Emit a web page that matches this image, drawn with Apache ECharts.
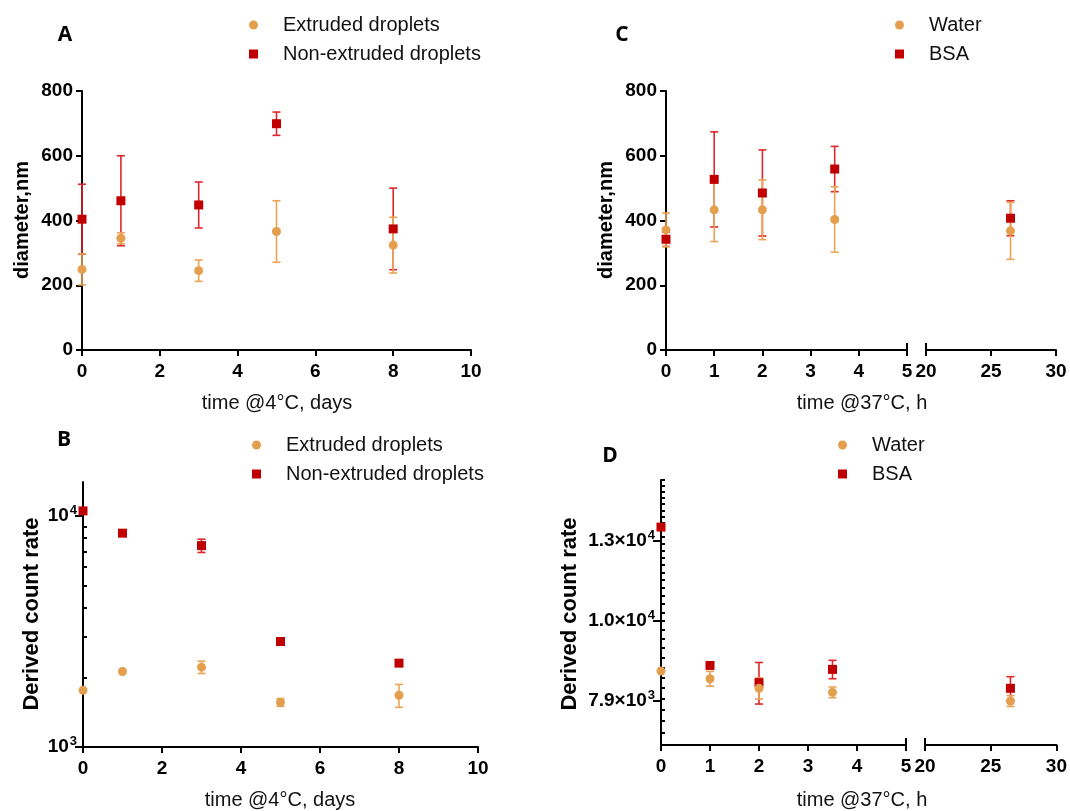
<!DOCTYPE html>
<html>
<head>
<meta charset="utf-8">
<script src="https://cdn.jsdelivr.net/npm/echarts@6/dist/echarts.min.js"></script>
<style>
html, body { margin: 0; padding: 0; background: #fff; }
#chart { width: 1070px; height: 811px; }
</style>
</head>
<body>
<div id="chart"></div>
<script>
// panel A / B: storage at 4 C, days
const days = [0, 1, 3, 5, 8];
const extrudedDiam = [249, 345, 245, 366, 324];
const extrudedDiamSd = [48, 17, 33, 95, 86];
const nonExtrudedDiam = [404, 461, 448, 699, 374];
const nonExtrudedDiamSd = [108, 139, 71, 36, 126];
const extrudedCount = [1760, 2120, 2215, 1560, 1675];
const extrudedCountSd = [0, 0, 136, 60, 190];
const nonExtrudedCount = [10500, 8410, 7430, 2860, 2305];
const nonExtrudedCountSd = [0, 0, 490, 90, 0];

// panel C / D: incubation at 37 C, hours
const hours = [0, 1, 2, 3.5, 26.5];
const waterDiam = [371, 433, 433, 403, 368];
const waterDiamSd = [52, 98, 92, 101, 88];
const bsaDiam = [342, 527, 485, 559, 407];
const bsaDiamSd = [22, 147, 133, 70, 54];
const waterCount = [8660, 8470, 8240, 8145, 7945];
const waterCountSd = [0, 180, 250, 125, 125];
const bsaCount = [13100, 8800, 8375, 8700, 8240];
const bsaCountSd = [0, 0, 500, 230, 280];

// tick labels
const countTicksB = [1000, 10000];
const countMinorB = [2000, 3000, 4000, 5000, 6000, 7000, 8000, 9000];
const countExpD = [3.9, 4.0, 4.1];

const FONT = '"Liberation Sans", Arial, sans-serif';
const ORANGE = '#E39F4E';
const ORANGE_ERR = '#EBA456';
const RED = '#C00000';
const RED_ERR = '#E0282C';

let countTicksD = countExpD.map(e => Math.pow(10, e));
let countMinorD = [];
for (let v = 7000; v <= 15000; v += 250) countMinorD.push(v);

let chart = echarts.init(document.getElementById('chart'));

function renderErr(params, api) {
    let x = api.value(0), m = api.value(1), s = api.value(2);
    if (!s) return;
    let top = api.coord([x, m + s]);
    let bot = api.coord([x, m - s]);
    let w = 4;
    let st = { stroke: api.visual('color'), lineWidth: 1.6 };
    return {
        type: 'group',
        children: [
            { type: 'line', shape: { x1: top[0], y1: top[1], x2: bot[0], y2: bot[1] }, style: st },
            { type: 'line', shape: { x1: top[0] - w, y1: top[1], x2: top[0] + w, y2: top[1] }, style: st },
            { type: 'line', shape: { x1: bot[0] - w, y1: bot[1], x2: bot[0] + w, y2: bot[1] }, style: st }
        ]
    };
}

function pick(xs, ys, sd, keep) {
    return xs.map((x, i) => [x, ys[i], sd[i]]).filter(d => keep(d[0]));
}

function errSeries(xi, data, color) {
    return {
        type: 'custom', name: 'err', xAxisIndex: xi, yAxisIndex: xi,
        itemStyle: { color: color }, renderItem: renderErr, data: data,
        clip: false, silent: true, z: 2
    };
}

function dotSeries(name, xi, data, color, symbol) {
    return {
        type: 'scatter', name: name, xAxisIndex: xi, yAxisIndex: xi,
        symbol: symbol, symbolSize: 9, itemStyle: { color: color, opacity: 1 },
        data: data.map(d => [d[0], d[1]]), z: 3, silent: true
    };
}

let all = () => true;
let early = x => x <= 5;
let late = x => x >= 20;

let panels = [
    // [axisIndex, xs, orange mean, orange sd, red mean, red sd, filter, names]
    [0, days, extrudedDiam, extrudedDiamSd, nonExtrudedDiam, nonExtrudedDiamSd, all, ['Extruded droplets', 'Non-extruded droplets']],
    [1, days, extrudedCount, extrudedCountSd, nonExtrudedCount, nonExtrudedCountSd, all, ['Extruded droplets', 'Non-extruded droplets']],
    [2, hours, waterDiam, waterDiamSd, bsaDiam, bsaDiamSd, early, ['Water', 'BSA']],
    [3, hours, waterDiam, waterDiamSd, bsaDiam, bsaDiamSd, late, ['Water', 'BSA']],
    [4, hours, waterCount, waterCountSd, bsaCount, bsaCountSd, early, ['Water', 'BSA']],
    [5, hours, waterCount, waterCountSd, bsaCount, bsaCountSd, late, ['Water', 'BSA']]
];

let series = [];
panels.forEach(p => {
    let orange = pick(p[1], p[2], p[3], p[6]);
    let red = pick(p[1], p[4], p[5], p[6]);
    series.push(errSeries(p[0], red, RED_ERR));
    series.push(dotSeries(p[7][1], p[0], red, RED, 'rect'));
    series.push(errSeries(p[0], orange, ORANGE_ERR));
    series.push(dotSeries(p[7][0], p[0], orange, ORANGE, 'circle'));
});

const lineSt = { show: true, onZero: false, lineStyle: { color: '#000', width: 2 } };
const tickSt = { show: true, length: 6, lineStyle: { color: '#000', width: 2 } };
const labelSt = { color: '#000', fontWeight: 'bold', fontSize: 19, fontFamily: FONT, margin: 9 };
const xLabelSt = Object.assign({}, labelSt, { margin: 12 });

function valAxis(grid, min, max, interval, isX) {
    return {
        type: 'value', gridIndex: grid, min: min, max: max, interval: interval,
        axisLine: lineSt, axisTick: tickSt, axisLabel: isX ? xLabelSt : labelSt,
        splitLine: { show: false }
    };
}

function breakAxis(grid, min, max, at) {
    return {
        type: 'value', gridIndex: grid, min: min, max: max, position: 'bottom',
        axisLine: { show: false },
        axisTick: { show: true, inside: true, length: 7, customValues: [at], lineStyle: { color: '#000', width: 2 } },
        axisLabel: { show: false }, splitLine: { show: false }
    };
}

const rich = {
    b: { color: '#000', fontWeight: 'bold', fontSize: 19, fontFamily: FONT },
    e: { color: '#000', fontWeight: 'bold', fontSize: 13, fontFamily: FONT, padding: [0, 0, 11, 1] }
};

function powLabel(v) {
    let e = Math.floor(Math.log10(v) + 1e-6);
    return '{b|10}{e|' + e + '}';
}

function sciLabel(v) {
    let e = Math.floor(Math.log10(v) + 1e-6);
    let m = (v / Math.pow(10, e)).toFixed(1);
    return '{b|' + m + '×10}{e|' + e + '}';
}

function logAxis(grid, min, max, ticks, fmt) {
    return {
        type: 'log', logBase: 10, gridIndex: grid, min: min, max: max,
        axisLine: lineSt,
        axisTick: { show: true, length: 8, customValues: ticks, lineStyle: { color: '#000', width: 2 } },
        axisLabel: { show: true, customValues: ticks, formatter: fmt, rich: rich, margin: 6 },
        splitLine: { show: false }
    };
}

function minorAxis(grid, min, max, ticks) {
    return {
        type: 'log', logBase: 10, gridIndex: grid, min: min, max: max,
        axisLine: { show: false },
        axisTick: { show: true, length: 4, customValues: ticks, lineStyle: { color: '#000', width: 2 } },
        axisLabel: { show: false }, splitLine: { show: false }
    };
}

function txt(s, x, y, size, bold, rot, family) {
    return {
        type: 'text', x: x, y: y, rotation: rot || 0,
        style: {
            text: s, fontSize: size, fontWeight: bold ? 'bold' : 'normal',
            fontFamily: family || FONT, fill: bold ? '#000' : '#111',
            align: 'center', verticalAlign: 'middle'
        }
    };
}

const LETTER_FONT = '"Open Sans", sans-serif';

let option = {
    backgroundColor: '#fff',
    animation: false,
    grid: [
        { left: 82, top: 91, width: 389, height: 259 },
        { left: 83, top: 482, width: 395, height: 265 },
        { left: 666, top: 91, width: 241, height: 259 },
        { left: 926, top: 91, width: 130, height: 259 },
        { left: 661, top: 480, width: 245, height: 265 },
        { left: 925, top: 480, width: 132, height: 265 }
    ],
    xAxis: [
        valAxis(0, 0, 10, 2, true),
        valAxis(1, 0, 10, 2, true),
        valAxis(2, 0, 5, 1, true),
        valAxis(3, 20, 30, 5, true),
        valAxis(4, 0, 5, 1, true),
        valAxis(5, 20, 30, 5, true),
        breakAxis(2, 0, 5, 5),
        breakAxis(3, 20, 30, 20),
        breakAxis(4, 0, 5, 5),
        breakAxis(5, 20, 30, 20)
    ],
    yAxis: [
        valAxis(0, 0, 800, 200),
        logAxis(1, 1000, 14000, countTicksB, powLabel),
        valAxis(2, 0, 800, 200),
        { type: 'value', gridIndex: 3, min: 0, max: 800, show: false },
        logAxis(4, 7000, 15000, countTicksD, sciLabel),
        { type: 'log', logBase: 10, gridIndex: 5, min: 7000, max: 15000, show: false },
        minorAxis(1, 1000, 14000, countMinorB),
        minorAxis(4, 7000, 15000, countMinorD)
    ],
    legend: [
        { left: 244, top: 10 },
        { left: 247, top: 430 },
        { left: 890, top: 10 },
        { left: 833, top: 430 }
    ].map((pos, i) => ({
        left: pos.left, top: pos.top, orient: 'vertical',
        itemWidth: 9, itemHeight: 9, itemGap: 9, selectedMode: false,
        textStyle: { color: '#111', fontSize: 20, fontFamily: FONT, lineHeight: 20, padding: [0, 0, 0, 20] },
        data: i < 2
            ? [{ name: 'Extruded droplets', icon: 'circle' }, { name: 'Non-extruded droplets', icon: 'rect' }]
            : [{ name: 'Water', icon: 'circle' }, { name: 'BSA', icon: 'rect' }]
    })),
    graphic: [
        txt('A', 65, 35, 21, true, 0, LETTER_FONT),
        txt('B', 64, 440, 21, true, 0, LETTER_FONT),
        txt('C', 622, 35, 21, true, 0, LETTER_FONT),
        txt('D', 610, 456, 21, true, 0, LETTER_FONT),
        txt('diameter,nm', 22, 220, 20, true, Math.PI / 2),
        txt('diameter,nm', 606, 220, 20, true, Math.PI / 2),
        txt('Derived count rate', 32, 614, 22, true, Math.PI / 2),
        txt('Derived count rate', 570, 614, 22, true, Math.PI / 2),
        txt('time @4°C, days', 277, 403, 20, false),
        txt('time @4°C, days', 280, 800, 20, false),
        txt('time @37°C, h', 862, 403, 20, false),
        txt('time @37°C, h', 862, 800, 20, false)
    ],
    series: series
};

chart.setOption(option);
</script>
</body>
</html>
